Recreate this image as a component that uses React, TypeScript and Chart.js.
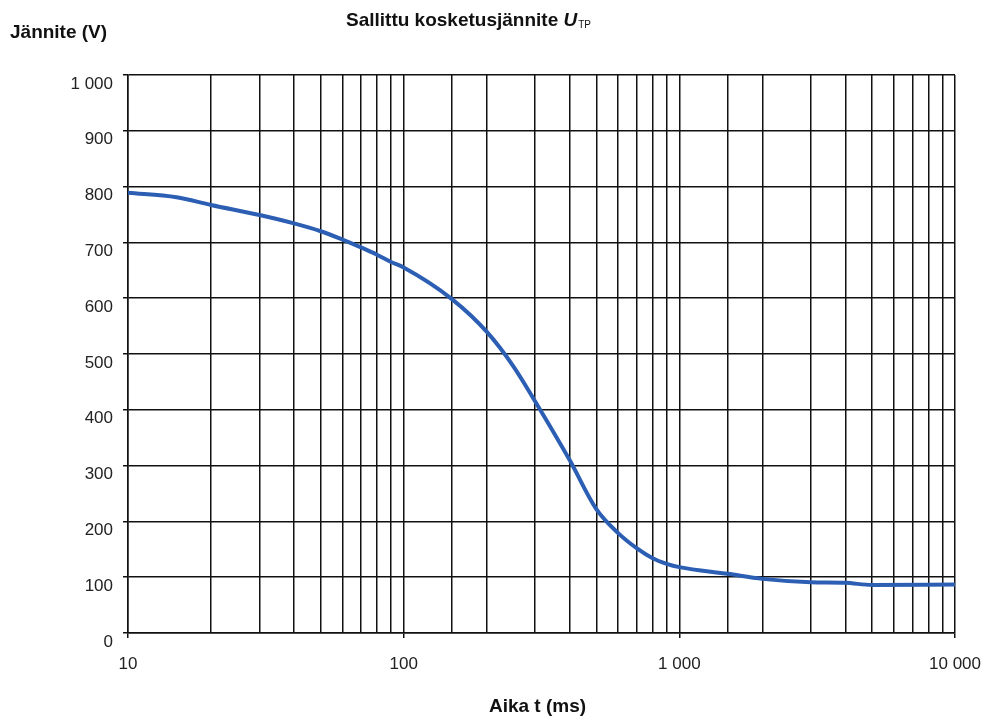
import React, { useEffect, useRef } from "react";
import { Chart, registerables } from "chart.js";

Chart.register(...registerables);

// Time (ms) and permitted touch voltage (V)
const timesMs = [10, 15, 20, 30, 40, 50, 60, 70, 80, 90, 100, 150, 200, 250, 300, 400, 500, 600, 700, 800, 900, 1000, 1500, 2000, 3000, 4000, 5000, 10000];
const voltages = [789, 781, 767, 749, 734, 720, 705, 691, 678, 665, 655, 598, 540, 478, 415, 310, 222, 179, 152, 134, 124, 118, 106, 97, 91, 90, 86, 87];

const xLabelValues = [10, 100, 1000, 10000];
const xLabelTexts = ["10", "100", "1 000", "10 000"];
const yLabelValues = [0, 100, 200, 300, 400, 500, 600, 700, 800, 900, 1000];
const yLabelTexts = ["0", "100", "200", "300", "400", "500", "600", "700", "800", "900", "1 000"];

const titleText = "Sallittu kosketusjännite ";
const titleSymbol = "U";
const titleSub = "TP";
const yTitle = "Jännite (V)";
const xTitle = "Aika t (ms)";

const FONT = '"Liberation Sans", Arial, Helvetica, sans-serif';

const textPlugin = {
  id: "texts",
  afterDraw(chart: any) {
    const ctx = chart.ctx;
    const area = chart.chartArea;
    ctx.save();
    ctx.fillStyle = "#111";
    ctx.textBaseline = "middle";
    ctx.textAlign = "left";
    ctx.font = `bold 19px ${FONT}`;
    ctx.fillText(yTitle, 10, 33);
    let x = 346;
    const y = 21;
    ctx.fillText(titleText, x, y);
    x += ctx.measureText(titleText).width;
    ctx.font = `italic bold 19px ${FONT}`;
    ctx.fillText(titleSymbol, x, y);
    x += ctx.measureText(titleSymbol).width;
    ctx.font = `10px ${FONT}`;
    ctx.fillText(titleSub, x + 1, y + 4);
    ctx.textAlign = "center";
    ctx.font = `bold 19px ${FONT}`;
    ctx.fillText(xTitle, (area.left + area.right) / 2 - 4, 707);
    ctx.restore();
  },
};

export default function App() {
  const ref = useRef<HTMLCanvasElement>(null);
  useEffect(() => {
    document.body.style.margin = "0";
    const canvas = ref.current!;
    const chart = new Chart(canvas, {
      type: "line",
      data: {
        datasets: [
          {
            data: timesMs.map((t, i) => ({ x: t, y: voltages[i] })),
            borderColor: "#2c5fb3",
            borderWidth: 4,
            pointRadius: 0,
            fill: false,
            cubicInterpolationMode: "monotone",
          },
        ],
      },
      options: {
        responsive: false,
        animation: false,
        events: [],
        layout: { padding: { top: 75, right: 30, left: 0, bottom: 0 } },
        plugins: { legend: { display: false }, tooltip: { enabled: false }, title: { display: false } },
        scales: {
          x: {
            type: "logarithmic",
            min: 10,
            max: 10000,
            afterFit: (s: any) => {
              s.height = 85;
              s.paddingLeft = 0;
              s.paddingRight = 0;
            },
            border: { display: true, color: "#111", width: 1.5 },
            grid: {
              color: "#111",
              lineWidth: 1.5,
              drawTicks: true,
              tickLength: 5,
              tickColor: (c: any) => (c.tick && xLabelValues.includes(c.tick.value) ? "#111" : "rgba(0,0,0,0)"),
            },
            ticks: {
              autoSkip: false,
              maxRotation: 0,
              minRotation: 0,
              padding: 16,
              color: "#222",
              font: { family: FONT, size: 17 },
              callback: (v: any) => {
                const i = xLabelValues.indexOf(Number(v));
                return i >= 0 ? xLabelTexts[i] : "";
              },
            },
          },
          y: {
            type: "linear",
            min: 0,
            max: 1000,
            afterFit: (s: any) => {
              s.width = 128;
              s.paddingTop = 0;
              s.paddingBottom = 0;
            },
            border: { display: true, color: "#111", width: 1.5 },
            grid: { color: "#111", lineWidth: 1.5, drawTicks: true, tickLength: 5, tickColor: "#111" },
            ticks: {
              stepSize: 100,
              padding: 10,
              labelOffset: 9,
              color: "#222",
              font: { family: FONT, size: 17 },
              callback: (v: any) => {
                const i = yLabelValues.indexOf(Number(v));
                return i >= 0 ? yLabelTexts[i] : "";
              },
            },
          },
        },
      },
      plugins: [textPlugin],
    } as any);
    return () => chart.destroy();
  }, []);
  return <canvas ref={ref} width={985} height={718} style={{ display: "block" }} />;
}
